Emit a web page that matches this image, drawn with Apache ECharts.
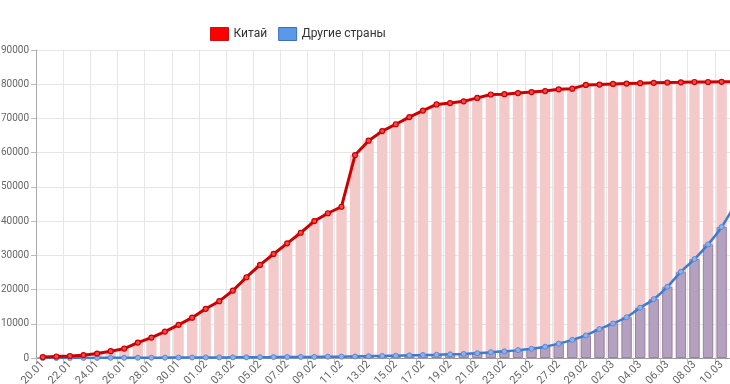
<!DOCTYPE html>
<html>
<head>
<meta charset="utf-8">
<script src="https://cdn.jsdelivr.net/npm/echarts@6/dist/echarts.min.js"></script>
<style>
html,body{margin:0;padding:0;background:#fff;}
#c{width:730px;height:384px;}
</style>
</head>
<body>
<div id="c"></div>
<script>
var categories = [
  '20.01','21.01','22.01','23.01','24.01','25.01','26.01','27.01','28.01','29.01','30.01','31.01',
  '01.02','02.02','03.02','04.02','05.02','06.02','07.02','08.02','09.02','10.02','11.02','12.02',
  '13.02','14.02','15.02','16.02','17.02','18.02','19.02','20.02','21.02','22.02','23.02','24.02',
  '25.02','26.02','27.02','28.02','29.02','01.03','02.03','03.03','04.03','05.03','06.03','07.03',
  '08.03','09.03','10.03','11.03'
];
var china = [
  280, 440, 580, 830, 1290, 1980, 2740, 4500, 5970, 7710, 9690, 11790,
  14380, 16600, 19700, 23600, 27200, 30400, 33500, 36600, 40000, 42300, 44200, 59300,
  63500, 66300, 68300, 70400, 72300, 74100, 74500, 75000, 76000, 77000, 77100, 77400,
  77700, 78000, 78500, 78700, 79800, 79900, 80100, 80200, 80300, 80400, 80500, 80550,
  80650, 80650, 80700, 80750
];
var others = [
  4, 7, 10, 20, 35, 50, 60, 70, 80, 100, 130, 150,
  160, 170, 190, 210, 230, 260, 290, 310, 320, 380, 400, 450,
  520, 580, 680, 780, 880, 940, 1070, 1200, 1400, 1700, 1950, 2300,
  2700, 3300, 4200, 5300, 6600, 8450, 10100, 11900, 14700, 17200, 20800, 25200,
  28900, 33200, 38300, 45000
];
var yTicks = [0, 10000, 20000, 30000, 40000, 50000, 60000, 70000, 80000, 90000];

var chart = echarts.init(document.getElementById('c'));
var font = "Roboto, 'Noto Sans', sans-serif";
chart.setOption({
  animation: false,
  backgroundColor: '#ffffff',
  legend: {
    left: 205,
    top: 22,
    icon: 'rect',
    itemWidth: 18,
    itemHeight: 13,
    itemGap: 11,
    textStyle: { fontFamily: font, fontSize: 12, color: '#333' },
    data: [
      { name: 'Китай', itemStyle: { color: '#ff0000', borderColor: '#d01010', borderWidth: 1 } },
      { name: 'Другие страны', itemStyle: { color: '#5b98ea', borderColor: '#3a6fc4', borderWidth: 1 } }
    ]
  },
  grid: { left: 36, width: 706, top: 50, bottom: 26, containLabel: false, outerBoundsMode: 'none' },
  xAxis: {
    type: 'category',
    data: categories,
    boundaryGap: true,
    axisLine: { show: true, lineStyle: { color: '#9a9a9a', width: 1 } },
    axisTick: { show: true, interval: 1, length: 5, lineStyle: { color: '#bbbbbb' } },
    splitLine: { show: true, interval: 1, lineStyle: { color: '#e6e6e6', width: 1 } },
    axisLabel: {
      interval: 1, rotate: 45, margin: 5,
      fontFamily: font, fontSize: 11, color: '#666'
    }
  },
  yAxis: {
    type: 'value',
    min: yTicks[0],
    max: yTicks[yTicks.length - 1],
    interval: 10000,
    axisLine: { show: true, lineStyle: { color: '#aaaaaa', width: 1 } },
    axisTick: { show: true, length: 5, lineStyle: { color: '#bbbbbb' } },
    splitLine: { show: true, lineStyle: { color: '#e6e6e6', width: 1 } },
    axisLabel: {
      margin: 7, fontFamily: font, fontSize: 10, color: '#666',
      formatter: function (v) { return String(v); }
    }
  },
  series: [
    {
      name: 'Китай', type: 'bar', data: china, barCategoryGap: '24%', barGap: '-100%',
      itemStyle: { color: '#f4c9c9' }, z: 1
    },
    {
      name: 'Другие страны', type: 'bar', data: others, barCategoryGap: '24%', barGap: '-100%',
      itemStyle: { color: '#b4a0bf', borderColor: '#9b83a8', borderWidth: 1 }, z: 2
    },
    {
      name: 'Китай', type: 'line', data: china, smooth: false,
      lineStyle: { color: '#d10000', width: 3 },
      symbol: 'circle', symbolSize: 5, showAllSymbol: true,
      itemStyle: { color: '#ee4a4a', borderColor: '#cc0000', borderWidth: 1.2 }, z: 4
    },
    {
      name: 'Другие страны', type: 'line', data: others, smooth: 0.3,
      lineStyle: { color: '#3c7bd6', width: 2.5 },
      symbol: 'circle', symbolSize: 5, showAllSymbol: true,
      itemStyle: { color: '#8fb1ea', borderColor: '#5a8ad8', borderWidth: 1 }, z: 3
    }
  ]
});
</script>
</body>
</html>
